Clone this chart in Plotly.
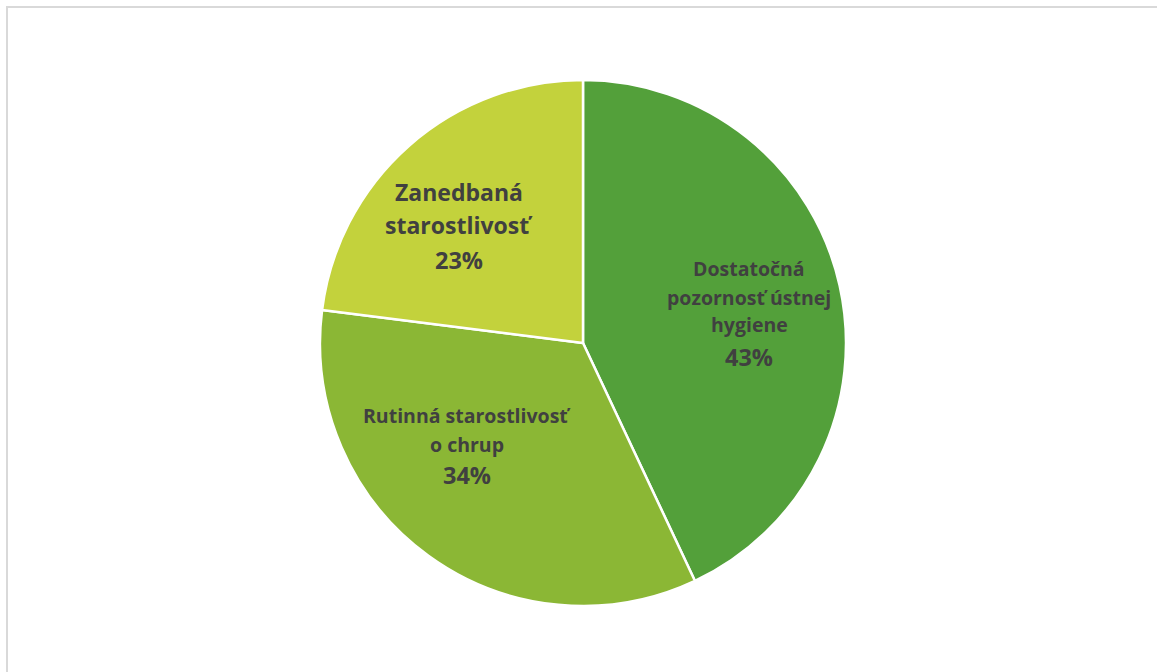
import plotly.graph_objects as go

labels = ["Dostatočná pozornosť ústnej hygiene", "Rutinná starostlivosť o chrup", "Zanedbaná starostlivosť"]
label_lines = [["Dostatočná", "pozornosť ústnej", "hygiene"], ["Rutinná starostlivosť", "o chrup"], ["Zanedbaná", "starostlivosť"]]
values = [43, 34, 23]
colors = ["#53A03A", "#8BB735", "#C3D23C"]
name_sizes = [19.5, 19.5, 23]
pct_size = 23.5
# pixel x center and y centers of each line (names then percentage)
label_x = [749, 467, 459]
label_y = [[268, 297, 325, 357], [415, 444, 475], [192, 225, 260]]

W, H = 1157, 672
FONT = "Open Sans, Carlito, Calibri, sans-serif"
fig = go.Figure(go.Pie(
    labels=labels, values=values, sort=False, direction="clockwise", rotation=0,
    marker=dict(colors=colors, line=dict(color="white", width=2.5)),
    textinfo="none", hoverinfo="label+percent", showlegend=False,
    domain=dict(x=[320 / W, 846 / W], y=[1 - 606 / H, 1 - 80 / H]),
))

for lines, v, fs, px, ys in zip(label_lines, values, name_sizes, label_x, label_y):
    texts = lines + [f"{v}%"]
    sizes = [fs] * len(lines) + [pct_size]
    for t, s, py in zip(texts, sizes, ys):
        fig.add_annotation(
            x=px / W, y=1 - py / H, xref="paper", yref="paper", showarrow=False,
            text=t, yanchor="middle", xanchor="center",
            font=dict(family=FONT, size=s, color="#404040", weight="bold"),
        )

fig.add_shape(type="rect", xref="paper", yref="paper",
              x0=7 / W, x1=1.01, y0=-0.01, y1=1 - 7 / H,
              line=dict(color="#D9D9D9", width=2), fillcolor="rgba(0,0,0,0)")

fig.update_layout(width=W, height=H, margin=dict(l=0, r=0, t=0, b=0),
                  paper_bgcolor="white", plot_bgcolor="white")
fig.write_html("out.html")
